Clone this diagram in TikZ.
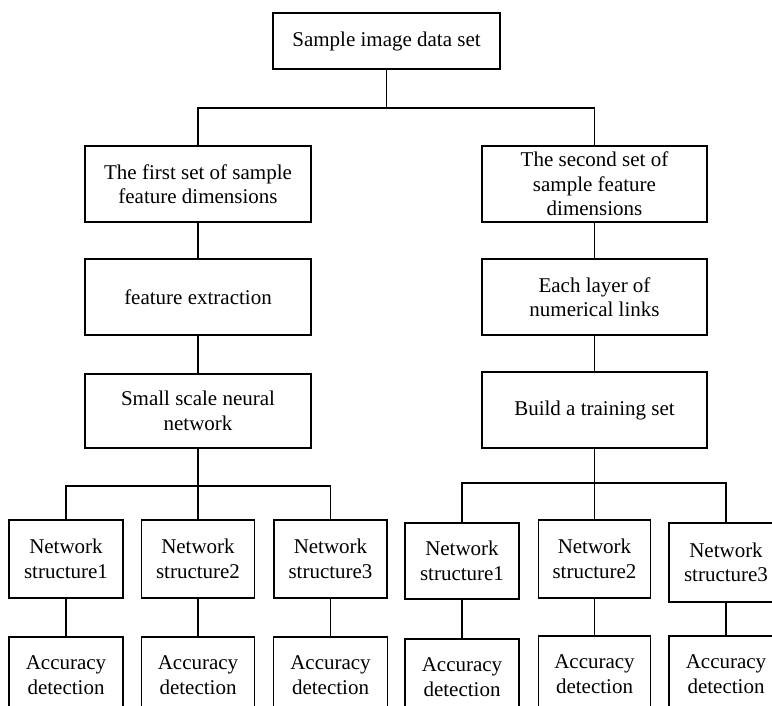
\documentclass[tikz,border=0pt]{standalone}
\usepackage{fontspec}
\setmainfont{Liberation Serif}
\begin{document}
\begin{tikzpicture}[x=1pt,y=-1pt,
  box/.style={draw, line width=1.8pt, align=center, inner sep=1pt,
    font=\fontsize{21}{24.5}\selectfont},
  conn/.style={line width=1.8pt}]
\clip (0,0) rectangle (772,706);
\fill[white] (0,0) rectangle (772,706);
% top level
\node[box, minimum width=227pt, minimum height=56pt] (top) at (386.5,41) {Sample image data set};
% left column
\node[box, minimum width=226pt, minimum height=76pt] (L1) at (198,184) {The first set of sample\\feature dimensions};
\node[box, minimum width=226pt, minimum height=76pt] (L2) at (198,297) {feature extraction};
\node[box, minimum width=226pt, minimum height=74pt] (L3) at (198,411) {Small scale neural\\network};
% right column
\node[box, minimum width=225pt, minimum height=76pt] (R1) at (594.5,184) {The second set of\\sample feature\\dimensions};
\node[box, minimum width=225pt, minimum height=76pt] (R2) at (594.5,297) {Each layer of\\numerical links};
\node[box, minimum width=225pt, minimum height=76pt] (R3) at (594.5,410) {Build a training set};
% left bottom
\node[box, minimum width=114pt, minimum height=78pt] (N1) at (66,559) {Network\\structure1};
\node[box, minimum width=113pt, minimum height=78pt] (N2) at (198,559) {Network\\structure2};
\node[box, minimum width=113pt, minimum height=78pt] (N3) at (330.5,559) {Network\\structure3};
\node[box, minimum width=114pt, minimum height=76pt] (A1) at (66,675) {Accuracy\\detection};
\node[box, minimum width=113pt, minimum height=76pt] (A2) at (198,675) {Accuracy\\detection};
\node[box, minimum width=114pt, minimum height=76pt] (A3) at (330.5,675) {Accuracy\\detection};
% right bottom
\node[box, minimum width=114pt, minimum height=76pt] (M1) at (462,561) {Network\\structure1};
\node[box, minimum width=112pt, minimum height=78pt] (M2) at (594.5,559) {Network\\structure2};
\node[box, minimum width=114pt, minimum height=79pt] (M3) at (726,562.5) {Network\\structure3};
\node[box, minimum width=114pt, minimum height=76pt] (B1) at (462,677) {Accuracy\\detection};
\node[box, minimum width=112pt, minimum height=76pt] (B2) at (594.5,674) {Accuracy\\detection};
\node[box, minimum width=114pt, minimum height=76pt] (B3) at (726,674) {Accuracy\\detection};
% branch points
\coordinate (b0) at (386.5,108);
\coordinate (bL) at (198,486);
\coordinate (bR) at (594.5,483);
% connectors
\draw[conn] (top.south) -- (b0);
\draw[conn] (L1.north) |- (b0) -| (R1.north);
\draw[conn] (L1) -- (L2);
\draw[conn] (L2) -- (L3);
\draw[conn] (R1) -- (R2);
\draw[conn] (R2) -- (R3);
\draw[conn] (L3.south) -- (N2.north);
\draw[conn] (N1.north) |- (bL) -| (N3.north);
\draw[conn] (R3.south) -- (M2.north);
\draw[conn] (M1.north) |- (bR) -| (M3.north);
\draw[conn] (N1) -- (A1);
\draw[conn] (N2) -- (A2);
\draw[conn] (N3) -- (A3);
\draw[conn] (M1) -- (B1);
\draw[conn] (M2) -- (B2);
\draw[conn] (M3) -- (B3);
\end{tikzpicture}
\end{document}
